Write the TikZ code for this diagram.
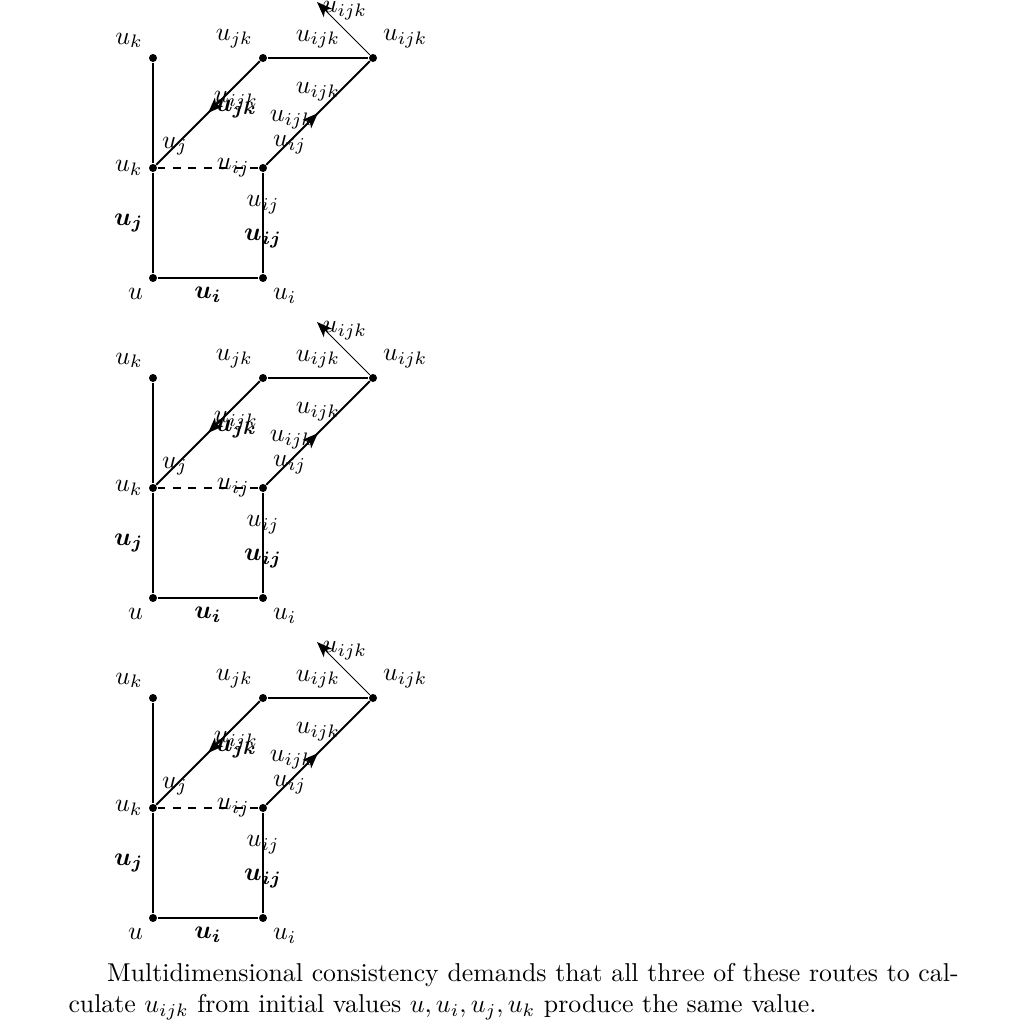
\documentclass[tikz,border=0pt]{standalone}
\usepackage{amsmath,bm}
\usetikzlibrary{arrows.meta,decorations.markings}
\begin{document}
\begin{tikzpicture}[x=0.38760pt,y=-0.38760pt,
  >={Stealth[length=6pt,width=4.6pt,inset=1.6pt]},
  vtx/.style={circle,fill,inner sep=0pt,minimum size=3.1pt},
  edge/.style={line width=0.7pt},
  lbl/.style={inner sep=0pt},
  label distance=-1.2pt,
  midarrow/.style={postaction={decorate},decoration={markings,
      mark=at position 0.5 with {\arrow{>}}}}]
\useasboundingbox (0,0) rectangle (1024,1024);
\foreach \p/\dy in {a/0,b/320,c/640}{
\begin{scope}[shift={(0,\dy)}]
  \node[vtx,label={[name=\p-lu]below left:$u$}] (\p-u) at (153,278) {};
  \node[vtx,label={[name=\p-lui]below right:$u_i$}] (\p-ui) at (263,278) {};
  \node[vtx,label={[name=\p-luk]left:$u_k$}] (\p-uk) at (153,168) {};
  \node[vtx] (\p-uij) at (263,168) {};
  \node[vtx,label={[name=\p-lukt]above left:$u_k$}] (\p-ukt) at (153,58) {};
  \node[vtx,label={[name=\p-lujk]above left:$u_{jk}$}] (\p-ujk) at (263,58) {};
  \node[vtx,label={[name=\p-luijk]above right:$u_{ijk}$}] (\p-uijk) at (373,58) {};
  \coordinate (\p-tip) at (317,2);
  % square
  \draw[edge] (\p-u) -- node[below] (\p-e1) {$\bm{u_i}$} (\p-ui);
  \draw[edge] (\p-u) -- node[left] (\p-e2) {$\bm{u_j}$} (\p-uk);
  \draw[edge] (\p-uk) -- (\p-ukt);
  \draw[edge] (\p-ui) -- node[lbl,pos=0.345] (\p-e3) {$\bm{u_{ij}}$}
                       node[lbl,pos=0.68] (\p-e4) {$u_{ij}$} (\p-uij);
  \draw[thin,dashed] (\p-uk) -- node[lbl,pos=0.75] (\p-e5) {$u_{ij}$} (\p-uij);
  % diagonals
  \draw[edge,midarrow] (\p-ujk) -- node[lbl,pos=0.82] (\p-e6) {$u_j$} (\p-uk);
  \node[lbl] (\p-e7) at (236,101) {$u_{ijk}$};
  \node[lbl] (\p-e8) at (236,109) {$\bm{u_{jk}}$};
  \draw[edge,midarrow] (\p-uij) -- node[lbl,pos=0.227,yshift=-1.2pt] (\p-e9) {$u_{ij}$} (\p-uijk);
  \node[lbl] (\p-e10) at (292,120) {$u_{ijk}$};
  \node[lbl] (\p-e11) at (318,92) {$u_{ijk}$};
  \draw[edge] (\p-ujk) -- node[above] (\p-e12) {$u_{ijk}$} (\p-uijk);
  \draw[thin,->] (\p-uijk) -- (\p-tip);
  \node[lbl] (\p-e13) at (345,11) {$u_{ijk}$};
\end{scope}
}
\node[inner sep=0pt,anchor=north west,text width=345pt,align=justify] (cap) at (68,963)
  {\hspace*{15pt}Multidimensional consistency demands that all three of these routes to calculate $u_{ijk}$ from initial values $u, u_i, u_j, u_k$ produce the same value.};
\end{tikzpicture}
\end{document}
